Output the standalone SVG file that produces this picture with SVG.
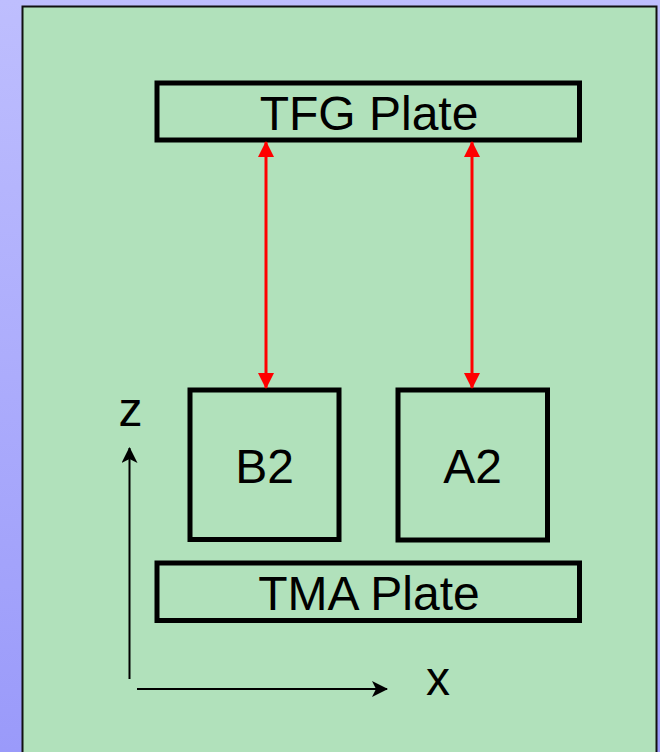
<svg xmlns="http://www.w3.org/2000/svg" width="660" height="752" viewBox="0 0 660 752">
<defs>
<linearGradient id="bg" x1="0" y1="0" x2="0" y2="1">
<stop offset="0" stop-color="#bebefe"/>
<stop offset="1" stop-color="#9a9afa"/>
</linearGradient>
<marker id="red" viewBox="0 0 16 16" refX="15" refY="8" markerWidth="16" markerHeight="16" markerUnits="userSpaceOnUse" orient="auto-start-reverse">
<path d="M0,0 L16,8 L0,16 Z" fill="#ff0000"/>
</marker>
<marker id="blk" viewBox="0 0 16 16" refX="15" refY="8" markerWidth="16" markerHeight="16" markerUnits="userSpaceOnUse" orient="auto">
<path d="M0,0 L16,8 L0,16 L4,8 Z" fill="#000"/>
</marker>
</defs>
<style>
.box{fill:none;stroke:#000;stroke-width:5}
.lbl{font-family:"Liberation Sans",Arial,sans-serif;font-size:48px;fill:#000;text-anchor:middle}
.red{stroke:#ff0000;stroke-width:3;fill:none}
.ax{stroke:#000;stroke-width:2;fill:none}
</style>
<rect x="0" y="0" width="660" height="752" fill="url(#bg)"/>
<rect x="22.5" y="6.5" width="634" height="760" fill="#b1e1bb" stroke="#111" stroke-width="2"/>
<g id="tfg">
<rect class="box" x="157" y="83" width="422.5" height="57"/>
<text class="lbl" x="369" y="130">TFG Plate</text>
</g>
<g id="b2">
<rect class="box" x="190" y="390" width="149" height="149.5"/>
<text class="lbl" x="264.5" y="483">B2</text>
</g>
<g id="a2">
<rect class="box" x="398" y="390" width="149.5" height="150"/>
<text class="lbl" x="472.5" y="483">A2</text>
</g>
<g id="tma">
<rect class="box" x="157" y="563" width="422.5" height="57.5"/>
<text class="lbl" x="369" y="610">TMA Plate</text>
</g>
<g id="z-label"><text class="lbl" x="130.5" y="426">z</text></g>
<g id="x-label"><text class="lbl" x="438" y="695">x</text></g>
<g id="connectors">
<line class="red" x1="266" y1="142" x2="266" y2="388" marker-start="url(#red)" marker-end="url(#red)"/>
<line class="red" x1="472" y1="142" x2="472" y2="388" marker-start="url(#red)" marker-end="url(#red)"/>
<line class="ax" x1="129.5" y1="679" x2="129.5" y2="448" marker-end="url(#blk)"/>
<line class="ax" x1="137" y1="689" x2="387" y2="689" marker-end="url(#blk)"/>
</g>
</svg>
